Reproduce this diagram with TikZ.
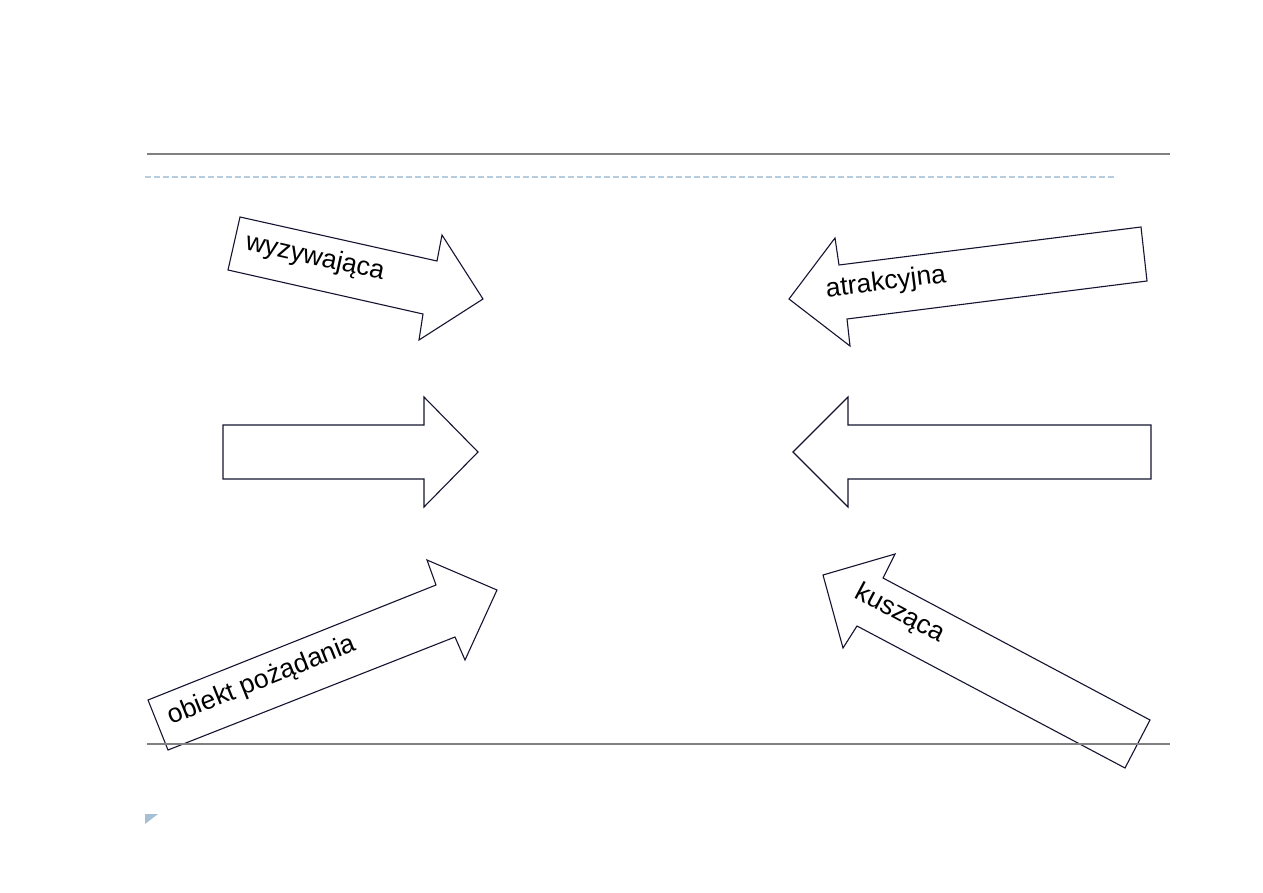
\documentclass[tikz,border=0pt]{standalone}
\usepackage{fontspec}
\setmainfont{Liberation Sans}
\definecolor{dashblue}{RGB}{184,204,224}
\definecolor{markblue}{RGB}{165,191,212}
\definecolor{outline}{RGB}{20,20,50}
\begin{document}
\begin{tikzpicture}[x=1pt,y=-1pt,
  arrowshape/.style={draw=outline, line width=1.1pt, fill=white, line join=miter},
  lbl/.style={inner sep=0pt, font=\fontsize{26.5}{30}\selectfont},
  ruleline/.style={draw=black!50, line width=2pt},
  dashline/.style={draw=dashblue, line width=1.6pt, dash pattern=on 6pt off 3pt}]
\useasboundingbox (0,0) rectangle (1263,893);
\fill[white] (0,0) rectangle (1263,893);
% header / footer lines
\draw[ruleline] (147,154) -- (1170,154);
\draw[dashline] (145,177) -- (1117,177);
% arrows
\draw[arrowshape] (240,217) -- (437,261) -- (442,235) -- (483,299) -- (419,340) -- (423,314) -- (228,270) -- cycle;
\draw[arrowshape] (1141,227) -- (839,265) -- (835,238) -- (789,299) -- (850,346) -- (847,319) -- (1147,281) -- cycle;
\draw[arrowshape] (223,425) -- (424,425) -- (424,397) -- (478,452) -- (424,507) -- (424,479) -- (223,479) -- cycle;
\draw[arrowshape] (1151,425) -- (848,425) -- (848,397) -- (793,452) -- (848,507) -- (848,479) -- (1151,479) -- cycle;
\draw[arrowshape] (148,700) -- (436,585) -- (427,560) -- (497,590) -- (465,660) -- (455,637) -- (168,750) -- cycle;
\draw[arrowshape] (1150,720) -- (883,578) -- (895,554) -- (823,575) -- (843,648) -- (857,626) -- (1125,768) -- cycle;
\draw[ruleline] (147,744) -- (1170,744);
% labels
\node[lbl, rotate=-12.6] (wyz) at (315,258) {wyzywająca};
\node[lbl, rotate=7.2] (atr) at (886,283) {atrakcyjna};
\node[lbl, rotate=21.8] (obi) at (262,681) {obiekt pożądania};
\node[lbl, rotate=-28] (kus) at (900,614) {kusząca};
% footer marker
\fill[markblue] (145,814) -- (158,814) -- (145,824) -- cycle;
\end{tikzpicture}
\end{document}
